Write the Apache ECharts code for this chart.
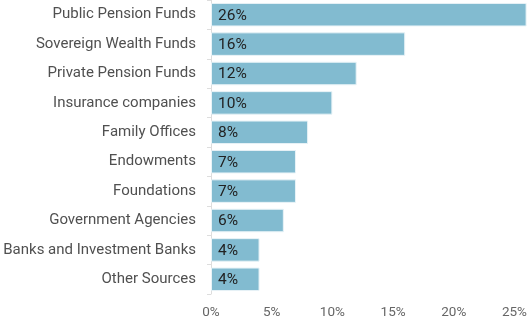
<!DOCTYPE html>
<html><head><meta charset="utf-8">
<script src="https://cdn.jsdelivr.net/npm/echarts@6/dist/echarts.min.js"></script>
<style>html,body{margin:0;padding:0;background:#fff}#c{width:530px;height:329px}</style>
</head><body><div id="c"></div>
<script>
const categories = ["Public Pension Funds","Sovereign Wealth Funds","Private Pension Funds","Insurance companies","Family Offices","Endowments","Foundations","Government Agencies","Banks and Investment Banks","Other Sources"];
const values = [26,16,12,10,8,7,7,6,4,4];
const xTicks = [0,5,10,15,20,25];

const chart = echarts.init(document.getElementById('c'));
chart.setOption({
  animation:false,
  grid:{left:211,right:2,top:0,bottom:35,containLabel:false},
  xAxis:{type:'value',min:0,max:26,interval:5,
    axisLine:{show:false},axisTick:{show:false},splitLine:{show:false},
    axisLabel:{showMaxLabel:false,formatter:v=>xTicks.includes(v)?v+'%':'',color:'#666',fontSize:13.5,fontFamily:'Roboto',margin:12}},
  yAxis:{type:'category',data:categories,inverse:true,
    axisLine:{show:true,lineStyle:{color:'#ddd'}},
    axisTick:{show:true,length:4,lineStyle:{color:'#ddd'}},
    axisLabel:{color:'#505050',fontSize:15,fontFamily:'Roboto',margin:15,padding:[3,0,0,0]}},
  series:[{type:'bar',data:values,barCategoryGap:'20%',
    itemStyle:{color:'#82bbd0',borderColor:'#e8f3f7',borderWidth:1},
    label:{show:true,position:'insideLeft',formatter:p=>p.value+'%',color:'#222',fontSize:15.5,fontFamily:'Roboto',offset:[2,1]}}]
});
</script></body></html>
